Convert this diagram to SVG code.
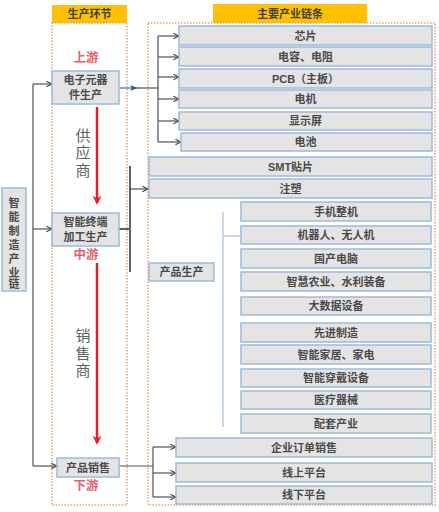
<svg xmlns="http://www.w3.org/2000/svg" width="439" height="512" viewBox="0 0 439 512">
<defs>
<style>
text{font-family:"Liberation Sans","Noto Sans CJK SC",sans-serif;fill:#404040;text-anchor:middle;dominant-baseline:central}
.b{fill:#e4e4e4;stroke:#9dbbdc;stroke-width:1.5}
.t{font-size:11px;font-weight:bold;fill:#4a4a4a}
.hd{fill:#ffc000}
.hdt{font-size:11px;font-weight:bold;fill:#404040}
.dot{fill:none;stroke:#f0a070;stroke-width:1.5;stroke-dasharray:1.5 1.5}
.red{font-size:12.5px;fill:#e8606a;font-weight:bold}
.big{font-size:15px;fill:#606060}
.ln{stroke:#505050;stroke-width:1.2;fill:none}
.thick{stroke:#606060;stroke-width:2;fill:none}
.rl{stroke:#e0202a;stroke-width:2.5;fill:none}
</style>
<marker id="ah" viewBox="0 0 10 10" refX="9" refY="5" markerWidth="7" markerHeight="7" orient="auto" markerUnits="userSpaceOnUse"><path d="M1,1 L9,5 L1,9" fill="none" stroke="#404040" stroke-width="1.5"/></marker>
<marker id="ahb" viewBox="0 0 10 10" refX="9" refY="5" markerWidth="8" markerHeight="8" orient="auto" markerUnits="userSpaceOnUse"><path d="M0,1 L10,5 L0,9 L3,5 Z" fill="#2e5a80"/></marker>
<marker id="ahr" viewBox="0 0 10 10" refX="8" refY="5" markerWidth="9" markerHeight="9" orient="auto" markerUnits="userSpaceOnUse"><path d="M0,0 L10,5 L0,10 L3,5 Z" fill="#e0202a"/></marker>
</defs>
<rect width="439" height="512" fill="#ffffff"/>

<g id="headers">
<rect class="hd" x="52" y="5" width="75" height="18"/>
<text class="hdt" x="89.5" y="14">生产环节</text>
<rect class="hd" x="213" y="4" width="154" height="19"/>
<text class="hdt" x="290" y="14">主要产业链条</text>
<rect class="dot" x="52" y="23" width="75" height="482"/>
<rect class="dot" x="148" y="23" width="287" height="482"/>
</g>

<g id="connectors">
<line class="ln" x1="33" y1="84" x2="33" y2="466"/>
<line class="ln" x1="33" y1="84" x2="52" y2="84" marker-end="url(#ah)"/>
<line class="ln" x1="33" y1="229" x2="52" y2="229" marker-end="url(#ah)"/>
<line class="ln" x1="33" y1="466" x2="57" y2="466" marker-end="url(#ah)"/>
<line x1="119" y1="88" x2="137" y2="88" stroke="#5b8fc0" stroke-width="1.5" marker-end="url(#ahb)"/>
<line class="ln" x1="137" y1="88" x2="158" y2="88" stroke-width="1.5"/>
<line class="ln" x1="158" y1="36" x2="158" y2="142" stroke-width="1.5"/>
<line class="ln" x1="158" y1="36" x2="179" y2="36" marker-end="url(#ah)"/>
<line class="ln" x1="158" y1="57" x2="179" y2="57" marker-end="url(#ah)"/>
<line class="ln" x1="158" y1="77" x2="179" y2="77" marker-end="url(#ah)"/>
<line class="ln" x1="158" y1="99" x2="179" y2="99" marker-end="url(#ah)"/>
<line class="ln" x1="158" y1="121" x2="179" y2="121" marker-end="url(#ah)"/>
<line class="ln" x1="158" y1="142" x2="181" y2="142" marker-end="url(#ah)"/>
<line class="thick" x1="119" y1="229" x2="130" y2="229"/>
<line class="thick" x1="130" y1="166" x2="130" y2="272"/>
<line class="ln" x1="130" y1="189" x2="148" y2="189" marker-end="url(#ah)"/>
<line x1="223" y1="212" x2="223" y2="427" stroke="#b8cde4" stroke-width="1.5"/>
<line x1="223" y1="236" x2="241" y2="236" stroke="#b8cde4" stroke-width="1.5"/>
<line class="ln" x1="119" y1="466" x2="153" y2="466"/>
<line class="ln" x1="153" y1="447" x2="153" y2="497"/>
<line class="ln" x1="153" y1="447" x2="176" y2="447" marker-end="url(#ah)"/>
<line class="ln" x1="153" y1="473" x2="176" y2="473" marker-end="url(#ah)"/>
<line class="ln" x1="153" y1="497" x2="176" y2="497" marker-end="url(#ah)"/>
<line class="rl" x1="97" y1="107" x2="97" y2="203" marker-end="url(#ahr)"/>
<line class="rl" x1="97" y1="263" x2="97" y2="443" marker-end="url(#ahr)"/>
</g>

<g id="labels">
<text class="red" x="86" y="58">上游</text>
<text class="red" x="86" y="255">中游</text>
<text class="red" x="86" y="486">下游</text>
<text class="big" x="83" y="135">供</text>
<text class="big" x="83" y="152">应</text>
<text class="big" x="83" y="170">商</text>
<text class="big" x="83" y="335">销</text>
<text class="big" x="83" y="353">售</text>
<text class="big" x="83" y="370">商</text>
</g>

<g id="chain">
<rect class="b" x="2" y="188" width="24" height="103"/>
<text class="t" x="14" y="203">智</text>
<text class="t" x="14" y="217">能</text>
<text class="t" x="14" y="231">制</text>
<text class="t" x="14" y="245">造</text>
<text class="t" x="14" y="259">产</text>
<text class="t" x="14" y="273">业</text>
<text class="t" x="14" y="287" dy="-3">链</text>
</g>

<g id="upstream">
<rect class="b" x="52" y="71" width="67" height="33"/>
<text class="t" x="85.5" y="80">电子元器</text>
<text class="t" x="85.5" y="95">件生产</text>
</g>
<g id="midstream">
<rect class="b" x="52" y="213" width="67" height="33"/>
<text class="t" x="85.5" y="222">智能终端</text>
<text class="t" x="85.5" y="237">加工生产</text>
</g>
<g id="downstream">
<rect class="b" x="57" y="458" width="62" height="19"/>
<text class="t" x="88" y="467.5">产品销售</text>
</g>

<g id="n-xinpian"><rect class="b" x="179" y="26" width="253" height="19"/><text class="t" x="305.5" y="35.5">芯片</text></g>
<g id="n-dianrong"><rect class="b" x="179" y="47" width="253" height="19"/><text class="t" x="305.5" y="56.5">电容、电阻</text></g>
<g id="n-pcb"><rect class="b" x="179" y="69" width="253" height="19"/><text class="t" x="305.5" y="78.5">PCB（主板）</text></g>
<g id="n-dianji"><rect class="b" x="179" y="90" width="253" height="18"/><text class="t" x="305.5" y="99">电机</text></g>
<g id="n-xianshi"><rect class="b" x="179" y="112" width="253" height="18"/><text class="t" x="305.5" y="121">显示屏</text></g>
<g id="n-dianchi"><rect class="b" x="181" y="133" width="251" height="18"/><text class="t" x="305.5" y="142">电池</text></g>
<g id="n-smt"><rect class="b" x="149" y="157" width="283" height="19"/><text class="t" x="290.5" y="166.5">SMT贴片</text></g>
<g id="n-zhusu"><rect class="b" x="149" y="179" width="283" height="19"/><text class="t" x="290.5" y="188.5">注塑</text></g>
<g id="n-chanpin"><rect class="b" x="149" y="263" width="65" height="18"/><text class="t" x="181.5" y="272">产品生产</text></g>

<g id="n-shouji"><rect class="b" x="241" y="202" width="190" height="19"/><text class="t" x="336" y="211.5">手机整机</text></g>
<g id="n-jiqiren"><rect class="b" x="241" y="226" width="190" height="18"/><text class="t" x="336" y="235">机器人、无人机</text></g>
<g id="n-diannao"><rect class="b" x="241" y="249" width="190" height="19"/><text class="t" x="336" y="258.5">国产电脑</text></g>
<g id="n-nongye"><rect class="b" x="241" y="272" width="190" height="19"/><text class="t" x="336" y="281.5">智慧农业、水利装备</text></g>
<g id="n-dashuju"><rect class="b" x="241" y="297" width="190" height="18"/><text class="t" x="336" y="306">大数据设备</text></g>
<g id="n-xianjin"><rect class="b" x="241" y="323" width="190" height="19"/><text class="t" x="336" y="332.5">先进制造</text></g>
<g id="n-jiaju"><rect class="b" x="241" y="345" width="190" height="19"/><text class="t" x="336" y="354.5">智能家居、家电</text></g>
<g id="n-chuandai"><rect class="b" x="241" y="369" width="190" height="18"/><text class="t" x="336" y="378">智能穿戴设备</text></g>
<g id="n-yiliao"><rect class="b" x="241" y="391" width="190" height="18"/><text class="t" x="336" y="400">医疗器械</text></g>
<g id="n-peitao"><rect class="b" x="241" y="414" width="190" height="19"/><text class="t" x="336" y="423.5">配套产业</text></g>

<g id="n-qiye"><rect class="b" x="176" y="438" width="256" height="19"/><text class="t" x="304" y="447.5">企业订单销售</text></g>
<g id="n-xianshang"><rect class="b" x="176" y="463" width="256" height="19"/><text class="t" x="304" y="472.5">线上平台</text></g>
<g id="n-xianxia"><rect class="b" x="176" y="486" width="256" height="18"/><text class="t" x="304" y="495">线下平台</text></g>
</svg>
